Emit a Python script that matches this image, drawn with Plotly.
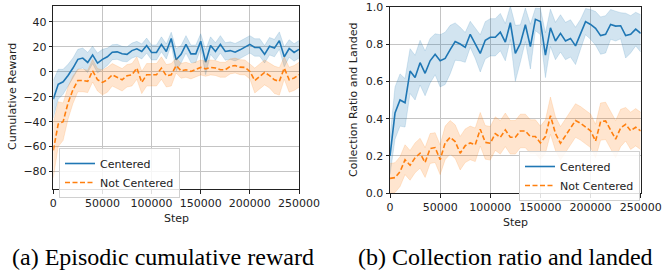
import plotly.graph_objects as go

steps = [i * 5000 for i in range(51)]

reward_centered = [-22, -10, -8, -3, 3, 10, 11, 7.5, 13.5, 7, 10, 12, 15.7, 16, 14.4, 14, 17, 18.4, 16.3, 21,
                   15.5, 15.5, 22, 16.3, 26.7, 9.6, 14, 22, 14.4, 14.4, 24.5, 7.7, 21, 16.3, 22, 16.3, 17, 15.7,
                   17.6, 20, 22, 19.5, 19.5, 14, 20.5, 19, 25, 12, 18.7, 15.5, 18]
reward_centered_std = [15, 12, 10, 9, 8, 8, 8, 8, 7, 8, 8, 7, 6, 6, 6, 6, 6, 6, 6, 6, 6, 6, 6, 6, 5, 9, 7, 7, 7,
                       7, 6, 10, 7, 7, 7, 7, 7, 7, 7, 7, 7, 7, 7, 7, 7, 7, 7, 8, 7, 7, 7]
reward_not = [-63, -42, -40, -25, -14.4, -7, -7, -7.7, 0.8, -6.4, -8.5, -6.4, -2.4, -4.5, -6.4, -3.2, -2.4, 3,
              -8.5, -2.4, -2.4, -2.4, 3, -3.2, -2.4, 5, 0.8, 1.6, 0.3, 1.6, 3.5, 2.4, 3.5, 3, 1.6, 1.6, 4.3, 5,
              3.7, 3.5, 0.3, -7, -3.7, -0.5, -3, -6.4, -7.7, 3, -6.4, -5, -2.4]
reward_not_std = [22, 18, 15, 13, 11, 9, 9, 9, 9, 9, 10, 10, 9, 9, 9, 9, 9, 9, 9, 9, 9, 9, 9, 9, 9, 6, 6, 6, 6,
                  6, 6, 6, 6, 6, 6, 6, 6, 6, 6, 6, 6, 10, 10, 10, 10, 11, 11, 9, 10, 10, 10]

ratio_centered = [0.2, 0.43, 0.5, 0.485, 0.655, 0.62, 0.70, 0.643, 0.71, 0.745, 0.71, 0.723, 0.77, 0.813, 0.8,
                  0.782, 0.852, 0.803, 0.75, 0.82, 0.836, 0.836, 0.864, 0.81, 0.914, 0.75, 0.803, 0.903, 0.786,
                  0.932, 0.92, 0.74, 0.887, 0.816, 0.857, 0.816, 0.83, 0.79, 0.852, 0.92, 0.905, 0.884, 0.845,
                  0.852, 0.905, 0.896, 0.898, 0.845, 0.852, 0.88, 0.857]
ratio_centered_std = [0.1, 0.14, 0.14, 0.13, 0.12, 0.12, 0.12, 0.12, 0.12, 0.11, 0.14, 0.14, 0.13, 0.1, 0.09,
                      0.08, 0.07, 0.08, 0.1, 0.1, 0.1, 0.1, 0.1, 0.1, 0.09, 0.15, 0.1, 0.09, 0.12, 0.06, 0.07,
                      0.12, 0.1, 0.1, 0.1, 0.1, 0.1, 0.1, 0.08, 0.07, 0.08, 0.09, 0.1, 0.1, 0.08, 0.08, 0.07,
                      0.12, 0.1, 0.09, 0.1]
ratio_not = [0.08, 0.084, 0.116, 0.18, 0.15, 0.19, 0.215, 0.165, 0.24, 0.245, 0.18, 0.27, 0.3, 0.277, 0.215,
             0.255, 0.27, 0.26, 0.343, 0.273, 0.268, 0.32, 0.3, 0.34, 0.3, 0.3, 0.334, 0.334, 0.304, 0.304,
             0.27, 0.304, 0.416, 0.32, 0.268, 0.31, 0.35, 0.39, 0.375, 0.357, 0.335, 0.28, 0.384, 0.388, 0.34,
             0.29, 0.35, 0.37, 0.335, 0.354, 0.334]
ratio_not_std = [0.08, 0.08, 0.08, 0.08, 0.08, 0.08, 0.08, 0.08, 0.08, 0.08, 0.08, 0.09, 0.09, 0.09, 0.09, 0.09,
                 0.09, 0.09, 0.09, 0.09, 0.09, 0.09, 0.09, 0.09, 0.09, 0.09, 0.09, 0.09, 0.09, 0.09, 0.09, 0.09,
                 0.1, 0.09, 0.09, 0.09, 0.09, 0.09, 0.09, 0.09, 0.09, 0.09, 0.1, 0.1, 0.1, 0.1, 0.1, 0.09, 0.1,
                 0.1, 0.1]

x_ticks = [0, 50000, 100000, 150000, 200000, 250000]
reward_ticks = [40, 20, 0, -20, -40, -60, -80]
ratio_ticks = [0.0, 0.2, 0.4, 0.6, 0.8, 1.0]
series_names = ["Centered", "Not Centered"]
captions = ["(a) Episodic cumulative reward", "(b) Collection ratio and landed"]
axis_titles = ["Cumulative Reward", "Collection Ratio and Landed", "Step"]

BLUE = "#1f77b4"
ORANGE = "#ff7f0e"
BLUE_FILL = "rgba(31,119,180,0.2)"
ORANGE_FILL = "rgba(255,127,14,0.2)"
W, H = 662, 278

fig = go.Figure()


def add_series(mean, std, color, fill, name, dash, xa, ya, legend):
    upper = [m + s for m, s in zip(mean, std)]
    lower = [m - s for m, s in zip(mean, std)]
    fig.add_trace(go.Scatter(x=steps, y=upper, mode="lines", line=dict(width=0.8, color=fill),
                             showlegend=False, hoverinfo="skip", xaxis=xa, yaxis=ya))
    fig.add_trace(go.Scatter(x=steps, y=lower, mode="lines", line=dict(width=0.8, color=fill),
                             fill="tonexty", fillcolor=fill, showlegend=False, hoverinfo="skip",
                             xaxis=xa, yaxis=ya))
    fig.add_trace(go.Scatter(x=steps, y=mean, mode="lines", name=name,
                             line=dict(width=1.6, color=color, dash=dash), xaxis=xa, yaxis=ya,
                             legend=legend))


add_series(reward_centered, reward_centered_std, BLUE, BLUE_FILL, series_names[0], "solid", "x", "y", "legend")
add_series(reward_not, reward_not_std, ORANGE, ORANGE_FILL, series_names[1], "5px,2.5px", "x", "y", "legend")
add_series(ratio_centered, ratio_centered_std, BLUE, BLUE_FILL, series_names[0], "solid", "x2", "y2", "legend2")
add_series(ratio_not, ratio_not_std, ORANGE, ORANGE_FILL, series_names[1], "5px,2.5px", "x2", "y2", "legend2")

font = dict(family="DejaVu Sans", size=11, color="#222")
axis_common = dict(showline=True, mirror=True, linecolor="#222", linewidth=1, ticks="outside",
                   ticklen=3.5, tickcolor="#222", showgrid=True, gridcolor="#c4c4c4", gridwidth=1,
                   zeroline=False, tickfont=font, automargin=False)


def px_x(p):
    return p / W


def px_y(p):
    return 1 - p / H


legend_common = dict(xanchor="left", yanchor="top", bgcolor="rgba(255,255,255,0.85)",
                     bordercolor="#d0d0d0", borderwidth=1,
                     font=dict(family="DejaVu Sans", size=11, color="#222"),
                     tracegroupgap=0, itemwidth=30, traceorder="normal")

fig.update_layout(
    template="none",
    width=W, height=H, margin=dict(l=0, r=0, t=0, b=0, pad=0, autoexpand=False),
    paper_bgcolor="white", plot_bgcolor="white", font=font,
    xaxis=dict(domain=[px_x(53.3), px_x(299)], range=[0, 250000], tickvals=x_ticks,
               ticktext=[str(v) for v in x_ticks], anchor="y", **axis_common),
    yaxis=dict(domain=[px_y(189), px_y(5.7)], range=[-94, 53], tickvals=reward_ticks, anchor="x",
               **axis_common),
    xaxis2=dict(domain=[px_x(390), px_x(640.7)], range=[0, 250000], tickvals=x_ticks,
                ticktext=[str(v) for v in x_ticks], anchor="y2", **axis_common),
    yaxis2=dict(domain=[px_y(193.3), px_y(6.7)], range=[0, 1], tickvals=ratio_ticks,
                ticktext=["%.1f" % v for v in ratio_ticks], anchor="x2", **axis_common),
    legend=dict(x=px_x(59), y=px_y(148), **legend_common),
    legend2=dict(x=px_x(519), y=px_y(151), **legend_common),
    showlegend=True,
)

annotations = [
    dict(text=axis_titles[0], x=px_x(12), y=px_y(97), textangle=-90),
    dict(text=axis_titles[2], x=px_x(176), y=px_y(218)),
    dict(text=axis_titles[1], x=px_x(353), y=px_y(100), textangle=-90),
    dict(text=axis_titles[2], x=px_x(515), y=px_y(222)),
]
for a in annotations:
    fig.add_annotation(xref="paper", yref="paper", showarrow=False, xanchor="center", yanchor="middle",
                       font=dict(family="DejaVu Sans", size=11, color="#222"), **a)

fig.add_annotation(text=captions[0], xref="paper", yref="paper", x=px_x(162.5), y=px_y(257), showarrow=False,
                   xanchor="center", yanchor="middle",
                   font=dict(family="Liberation Serif", size=24, color="black"))
fig.add_annotation(text=captions[1], xref="paper", yref="paper", x=px_x(505), y=px_y(257), showarrow=False,
                   xanchor="center", yanchor="middle",
                   font=dict(family="Liberation Serif", size=24, color="black"))

fig.write_html("out.html", config={"displayModeBar": False, "staticPlot": True},
               post_script="document.body.style.margin='0';document.body.style.overflow='hidden';")
